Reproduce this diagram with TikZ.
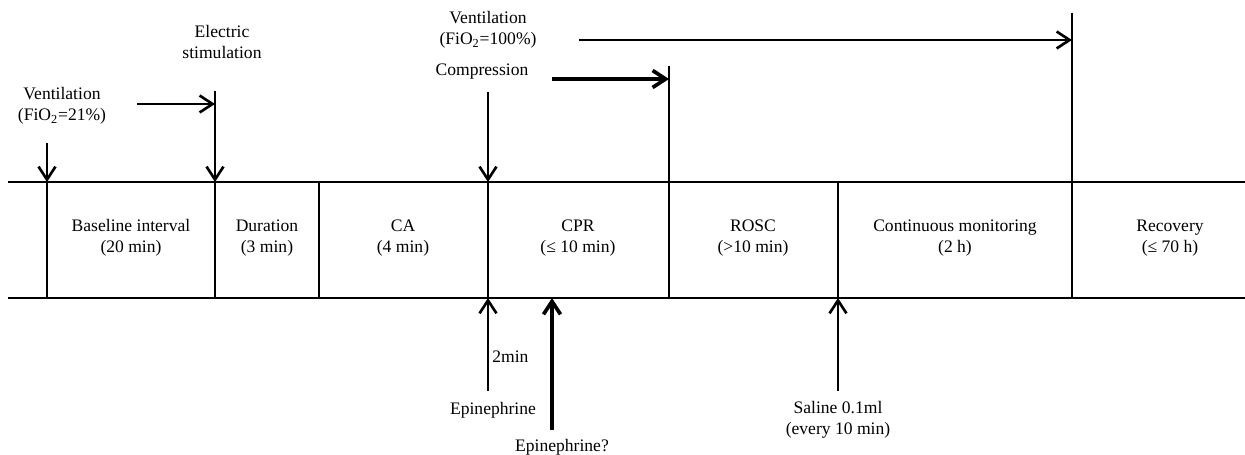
\documentclass[tikz,border=0pt]{standalone}
\usepackage{fontspec}
\setmainfont{Liberation Serif}
\usetikzlibrary{arrows.meta}

\begin{document}
\begin{tikzpicture}[x=0.02cm, y=-0.02cm, line width=1.5pt,
  lbl/.style={align=center, inner sep=0pt, font=\fontsize{10}{12}\selectfont},
  arr/.style={-{Straight Barb[length=2.6mm, width=3.4mm]}},
  heavy/.style={line width=2.1pt}]
\useasboundingbox (0,0) rectangle (1245,455);

% time axis
\coordinate (topL) at (8,182);
\coordinate (topR) at (1245,182);
\coordinate (botL) at (8,298);
\coordinate (botR) at (1245,298);
\draw (topL) -- (topR);
\draw (botL) -- (botR);

\foreach \x/\n in {47/1,215/2,319/3,488/4,669/5,838/6,1072/7} {
  \coordinate (t\n) at (\x,182);
  \coordinate (b\n) at (\x,298);
  \draw (t\n) -- (b\n);
}

% phases
\node[lbl] (base) at (131,238) {Baseline interval\\(20 min)};
\node[lbl] (dur) at (267,238) {Duration\\(3 min)};
\node[lbl] (ca) at (403,238) {CA\\(4 min)};
\node[lbl] (cpr) at (578,238) {CPR\\(≤ 10 min)};
\node[lbl] (rosc) at (753,238) {ROSC\\(>10 min)};
\node[lbl] (mon) at (955,238) {Continuous monitoring\\(2 h)};
\node[lbl] (rec) at (1170,238) {Recovery\\(≤ 70 h)};

% events above
\node[lbl] (vent1) at (62,106) {Ventilation\\(FiO\textsubscript{2}=21\%)};
\node[lbl] (elec) at (222,42) {Electric\\stimulation};
\node[lbl] (vent2) at (488,30) {Ventilation\\(FiO\textsubscript{2}=100\%)};
\node[lbl] (comp) at (482,72) {Compression};

\coordinate (s1) at (47,143);
\coordinate (s2) at (215,91);
\coordinate (s4) at (488,92);
\coordinate (s5) at (669,66);
\coordinate (s7) at (1072,13);
\draw [arr] (s1) -- (t1);
\draw [arr] (s2) -- (t2);
\draw [arr] (s4) -- (t4);
\draw (s5) -- (t5);
\draw (s7) -- (t7);

\coordinate (e1) at (137,104);
\coordinate (e2) at (552,79);
\coordinate (e3) at (579,40);
\draw [arr] (e1) -- (e1 -| s2);
\draw [arr, heavy] (e2) -- (e2 -| s5);
\draw [arr] (e3) -- (e3 -| s7);

% events below
\coordinate (u4) at (488,391);
\coordinate (u6) at (838,391);
\coordinate (u8) at (552,430);
\coordinate (b8) at (552,298);
\draw [arr] (u4) -- (b4);
\draw [arr] (u6) -- (b6);
\draw [arr, heavy] (u8) -- (b8);

\node[lbl, anchor=west] (twomin) at (491,357) {2min};
\node[lbl] (epi1) at (493,410) {Epinephrine};
\node[lbl] (epi2) at (562,447) {Epinephrine?};
\node[lbl] (saline) at (838,420) {Saline 0.1ml\\(every 10 min)};

\end{tikzpicture}
\end{document}
